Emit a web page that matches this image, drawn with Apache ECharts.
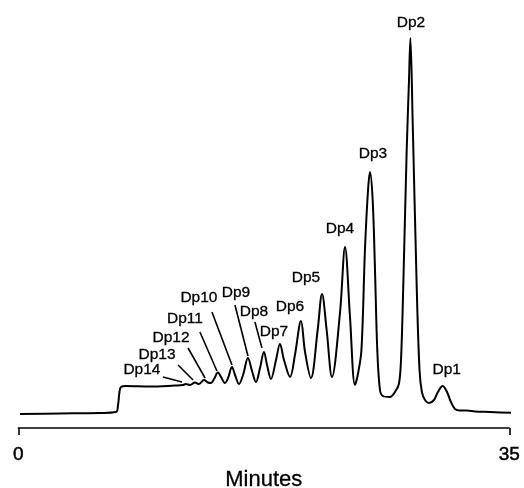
<!DOCTYPE html>
<html>
<head>
<meta charset="utf-8">
<script src="https://cdn.jsdelivr.net/npm/echarts@6/dist/echarts.min.js"></script>
<style>
html,body{margin:0;padding:0;background:#fff;}
#chart{width:524px;height:488px;}
</style>
</head>
<body>
<div id="chart"></div>
<script>
// Chromatogram trace: retention time (minutes) and detector signal (arbitrary units)
const timeMin = [0.12, 2.97, 5.82, 6.96, 7.11, 7.21, 7.32, 7.68, 9.39, 11.17,
  11.74, 11.95, 12.24, 12.60, 12.88, 13.24, 13.52, 13.74, 13.95, 14.23,
  14.45, 14.73, 14.95, 15.23, 15.45, 15.73, 16.02, 16.37, 16.66, 16.94,
  17.23, 17.51, 17.73, 18.01, 18.37, 18.65, 18.94, 19.37, 19.72, 20.15,
  20.44, 20.86, 21.34, 21.65, 21.98, 22.36, 22.93, 23.29, 23.64, 24.00,
  24.21, 24.46, 24.71, 24.93, 25.07, 25.26, 25.42, 25.59, 25.78, 25.99,
  26.49, 26.85, 27.13, 27.28, 27.44, 27.68, 27.85, 27.95, 28.11, 28.40,
  28.60, 28.77, 28.99, 29.27, 29.63, 29.91, 30.25, 30.56, 30.84, 31.13,
  31.48, 31.98, 32.55, 33.62, 35.51];
const signal = [0, 0.5, 1, 2, 9, 22, 27, 28, 27.5, 28.5,
  29, 30, 29, 31.5, 30, 34, 31.5, 31, 35, 41.5,
  37, 31, 36, 47, 39, 30, 39, 56, 43, 32,
  46, 62, 49, 35, 54, 70, 54, 37, 59, 93,
  62, 36, 84, 120, 84, 37, 101, 167, 98, 29,
  40, 64, 164, 224, 242, 214, 147, 64, 24, 18,
  17, 22, 30, 54, 127, 261, 334, 376, 294, 127,
  44, 22, 14, 11, 14, 22, 28, 22, 12, 5,
  3.5, 3.5, 2.5, 2, 1];

// Peak annotations
const peakNames = ['Dp1','Dp2','Dp3','Dp4','Dp5','Dp6','Dp7','Dp8','Dp9','Dp10','Dp11','Dp12','Dp13','Dp14'];
const peakTimes = [30.25, 27.95, 25.07, 23.29, 21.65, 20.15, 18.65, 17.51, 16.37, 15.23, 14.23, 13.24, 12.60, 11.95];
const peakHeights = [28, 376, 242, 167, 120, 93, 70, 62, 56, 47, 41.5, 34, 31.5, 30];

// Axis tick labels
const xTicks = [0, 35];
const xAxisTitle = 'Minutes';

// Label placement (pixel offsets from the peak apex) – styling only
const labelLayout = [
  {dx: 4, dy: -16},
  {dx: 0.5, dy: -15},
  {dx: 3, dy: -18},
  {dx: -5, dy: -18},
  {dx: -16, dy: -16},
  {dx: -11, dy: -14},
  {dx: -6, dy: -12},
  {dx: -10, dy: -40, line: [-9, -30, -2, -4]},
  {dx: -12, dy: -65, line: [-13, -53, 0, -2]},
  {dx: -33, dy: -69, line: [-20, -55, 0, -2]},
  {dx: -33, dy: -53.5, line: [-18, -40.5, -1, -1.5]},
  {dx: -33, dy: -42, line: [-16, -32, 1, -2]},
  {dx: -38, dy: -27.5, line: [-17, -17.5, -2, -2.5]},
  {dx: -44, dy: -14, line: [-23, -7, -4, -2]}
];

const FONT = '"Liberation Sans", Arial, Helvetica, sans-serif';

const chart = echarts.init(document.getElementById('chart'));
const trace = timeMin.map((t, i) => [t, signal[i]]);
const peaks = peakTimes.map((t, i) => [t, peakHeights[i], i]);

chart.setOption({
  animation: false,
  backgroundColor: '#fff',
  grid: {left: 18.3, right: 14.7, top: 14, bottom: 60, containLabel: false, outerBoundsMode: 'none'},
  xAxis: {
    type: 'value',
    min: xTicks[0],
    max: xTicks[xTicks.length - 1],
    interval: xTicks[1] - xTicks[0],
    name: xAxisTitle,
    nameLocation: 'middle',
    nameGap: 38,
    nameTextStyle: {fontSize: 22, color: '#000', fontFamily: FONT, textBorderColor: '#000', textBorderWidth: 0.3},
    axisLine: {show: true, onZero: false, lineStyle: {color: '#000', width: 1.6}},
    axisTick: {show: true, length: 7, lineStyle: {color: '#000', width: 1.6}},
    axisLabel: {show: true, margin: 17, fontSize: 19, color: '#000', fontFamily: FONT, textBorderColor: '#000', textBorderWidth: 0.5},
    splitLine: {show: false}
  },
  yAxis: {
    type: 'value', min: -14, max: 400, show: false,
    splitLine: {show: false}
  },
  series: [
    {
      type: 'line',
      data: trace,
      clip: false,
      smooth: 0.35,
      symbol: 'none',
      lineStyle: {color: '#000', width: 2},
      z: 2
    },
    {
      type: 'custom',
      data: peaks,
      clip: false,
      renderItem: function (params, api) {
        const i = api.value(2);
        const p = api.coord([api.value(0), api.value(1)]);
        const o = labelLayout[i];
        const children = [{
          type: 'text',
          style: {
            text: peakNames[i],
            x: p[0] + o.dx,
            y: p[1] + o.dy,
            align: 'center',
            verticalAlign: 'middle',
            fontSize: 15.5,
            fontFamily: FONT,
            fill: '#000',
            stroke: '#000',
            lineWidth: 0.3
          }
        }];
        if (o.line) {
          children.push({
            type: 'line',
            shape: {x1: p[0] + o.line[0], y1: p[1] + o.line[1], x2: p[0] + o.line[2], y2: p[1] + o.line[3]},
            style: {stroke: '#000', lineWidth: 1.6}
          });
        }
        return {type: 'group', children: children};
      },
      z: 3
    }
  ]
});
</script>
</body>
</html>
